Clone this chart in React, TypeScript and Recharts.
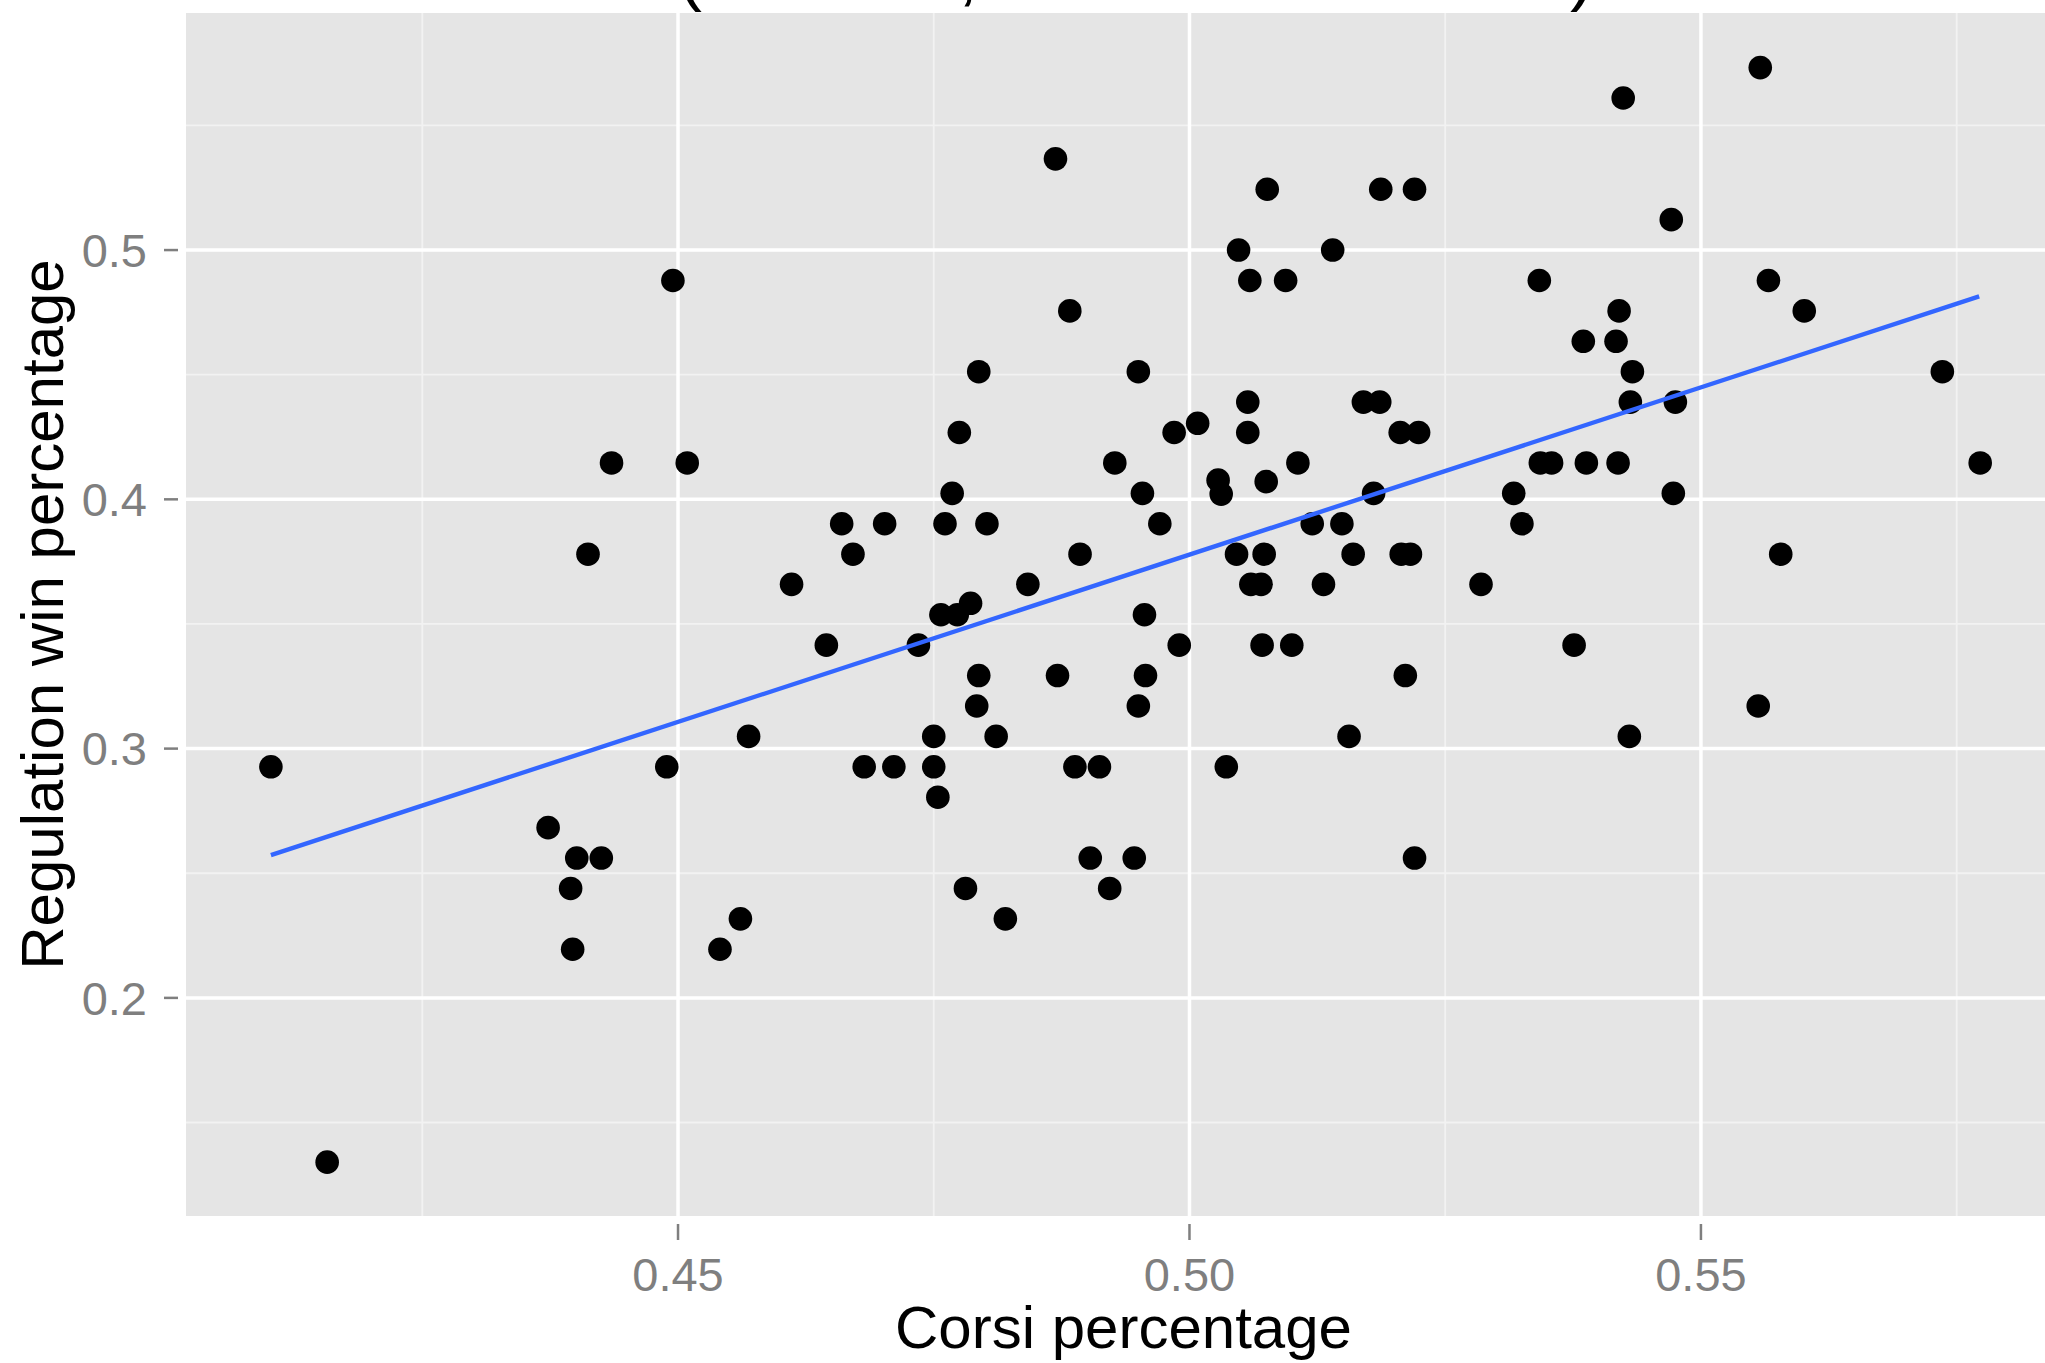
import React from 'react';
import { ScatterChart, Scatter, XAxis, YAxis, CartesianGrid, ReferenceLine } from 'recharts';

// ---- data ----
const corsiPct = [
  0.4495, 0.4869, 0.5076, 0.5187, 0.5220, 0.5048, 0.5140, 0.5059, 0.5094, 0.4883,
  0.4794, 0.4950, 0.5057, 0.5170, 0.5186,
  0.5558, 0.5424, 0.5471, 0.5342, 0.5566, 0.5420, 0.5601, 0.5385, 0.5417, 0.5433,
  0.5736, 0.5431, 0.5475,
  0.4435, 0.4509, 0.4412, 0.4611, 0.4102, 0.4489, 0.4569, 0.4373,
  0.4401, 0.4425, 0.4395, 0.4397, 0.4561, 0.4541, 0.4157,
  0.4775, 0.4985, 0.5008, 0.5057, 0.5206, 0.5224, 0.4927, 0.5028, 0.5031, 0.5075,
  0.5106, 0.4768, 0.4954, 0.5180, 0.4660, 0.4702, 0.4761, 0.4802, 0.4971, 0.5120,
  0.5149, 0.4671, 0.4893, 0.5046, 0.5073, 0.5160, 0.5207, 0.5216, 0.4842, 0.5060,
  0.5070, 0.5131, 0.4786, 0.4757, 0.4773, 0.4956, 0.4645, 0.4735, 0.4990, 0.5071,
  0.5100, 0.4794, 0.4871, 0.4957, 0.5211, 0.4792, 0.4950, 0.4750, 0.4811, 0.5156,
  0.4682, 0.4711, 0.4750, 0.4888, 0.4912, 0.5036, 0.4754,
  0.4903, 0.4946, 0.5220, 0.4781, 0.4922, 0.4820,
  0.5343, 0.5354, 0.5388, 0.5419, 0.5773, 0.5317, 0.5473, 0.5325, 0.5578, 0.5285,
  0.5376, 0.5556, 0.5430,
];

const regWinPct = [
  0.4878, 0.5366, 0.5244, 0.5244, 0.5244, 0.5000, 0.5000, 0.4878, 0.4878, 0.4756,
  0.4512, 0.4512, 0.4390, 0.4390, 0.4390,
  0.5732, 0.5610, 0.5122, 0.4878, 0.4878, 0.4756, 0.4756, 0.4634, 0.4634, 0.4512,
  0.4512, 0.4390, 0.4390,
  0.4146, 0.4146, 0.3780, 0.3659, 0.2927, 0.2927, 0.3049, 0.2683,
  0.2561, 0.2561, 0.2439, 0.2195, 0.2317, 0.2195, 0.1341,
  0.4268, 0.4268, 0.4305, 0.4268, 0.4268, 0.4268, 0.4146, 0.4077, 0.4021, 0.4071,
  0.4146, 0.4024, 0.4024, 0.4024, 0.3902, 0.3902, 0.3902, 0.3902, 0.3902, 0.3902,
  0.3902, 0.3780, 0.3780, 0.3780, 0.3780, 0.3780, 0.3780, 0.3780, 0.3659, 0.3659,
  0.3659, 0.3659, 0.3583, 0.3537, 0.3537, 0.3537, 0.3415, 0.3415, 0.3415, 0.3415,
  0.3415, 0.3293, 0.3293, 0.3293, 0.3293, 0.3171, 0.3171, 0.3049, 0.3049, 0.3049,
  0.2927, 0.2927, 0.2927, 0.2927, 0.2927, 0.2927, 0.2805,
  0.2561, 0.2561, 0.2561, 0.2439, 0.2439, 0.2317,
  0.4146, 0.4146, 0.4146, 0.4146, 0.4146, 0.4024, 0.4024, 0.3902, 0.3780, 0.3659,
  0.3415, 0.3171, 0.3049,
];

// fitted line end points (as drawn in the reference)
const trendCorsi = [0.4102, 0.5772];
const trendRegWin = [0.2573, 0.4814];

const xMajorTicks = [0.45, 0.5, 0.55];
const xMinorTicks = [0.425, 0.475, 0.525, 0.575];
const yMajorTicks = [0.2, 0.3, 0.4, 0.5];
const yMinorTicks = [0.15, 0.25, 0.35, 0.45, 0.55];

const xAxisTitle = 'Corsi percentage';
const yAxisTitle = 'Regulation win percentage';
const titleGlyphs = ['(', ',', ')'];

// ---- styling ----
const FONT = "'Liberation Sans', Arial, Helvetica, sans-serif";
const PANEL = '#E5E5E5';
const MINOR = '#F2F2F2';
const MAJOR = '#FFFFFF';
const AXIS_GREY = '#7F7F7F';
const X_DOMAIN: [number, number] = [0.4019, 0.5852];
const Y_DOMAIN: [number, number] = [0.1125, 0.5951];

const points = corsiPct.map((x, i) => ({ x, y: regWinPct[i] }));
const trend = trendCorsi.map((x, i) => ({ x, y: trendRegWin[i] }));

const XTick = (props: any) => {
  const { x, y, payload } = props;
  return (
    <g>
      <line x1={x} x2={x} y1={y + 8} y2={y + 24} stroke={AXIS_GREY} strokeWidth={2.5} />
      <text x={x} y={y + 75} textAnchor="middle" fontSize={47} fill={AXIS_GREY} fontFamily={FONT}>
        {Number(payload.value).toFixed(2)}
      </text>
    </g>
  );
};

const YTick = (props: any) => {
  const { x, y, payload } = props;
  return (
    <g>
      <line x1={x - 22} x2={x - 8} y1={y} y2={y} stroke={AXIS_GREY} strokeWidth={2.5} />
      <text x={x - 39} y={y + 16.8} textAnchor="end" fontSize={47} fill={AXIS_GREY} fontFamily={FONT}>
        {String(payload.value)}
      </text>
    </g>
  );
};

const Dot = (props: any) => {
  const { cx, cy } = props;
  if (cx == null || cy == null) return <g />;
  return <circle cx={cx} cy={cy} r={11.8} fill="#000000" />;
};

const NoDot = () => <g />;

const titleX = [690, 968, 1582];

export default function App() {
  return (
    <div
      style={{
        position: 'absolute',
        left: 0,
        top: 0,
        width: 2045,
        height: 1363,
        overflow: 'hidden',
        background: '#FFFFFF',
      }}
    >
      <ScatterChart width={2061} height={1363} margin={{ top: 13, right: 0, bottom: 0, left: 0 }}>
        <CartesianGrid fill={PANEL} stroke="none" horizontal={false} vertical={false} />
        {xMinorTicks.map((v) => (
          <ReferenceLine key={'xm' + v} x={v} stroke={MINOR} strokeWidth={1.8} />
        ))}
        {yMinorTicks.map((v) => (
          <ReferenceLine key={'ym' + v} y={v} stroke={MINOR} strokeWidth={1.8} />
        ))}
        {xMajorTicks.map((v) => (
          <ReferenceLine key={'xM' + v} x={v} stroke={MAJOR} strokeWidth={3.5} />
        ))}
        {yMajorTicks.map((v) => (
          <ReferenceLine key={'yM' + v} y={v} stroke={MAJOR} strokeWidth={3.5} />
        ))}
        <XAxis
          type="number"
          dataKey="x"
          domain={X_DOMAIN}
          allowDataOverflow
          ticks={xMajorTicks}
          interval={0}
          axisLine={false}
          tickLine={false}
          tickSize={0}
          tickMargin={0}
          height={147}
          tick={<XTick />}
          label={{
            content: (p: any) => {
              const vb = p.viewBox || { x: 186, y: 1216, width: 1875, height: 147 };
              return (
                <text
                  x={vb.x + vb.width / 2}
                  y={vb.y + 132}
                  textAnchor="middle"
                  fontSize={60}
                  fill="#000000"
                  fontFamily={FONT}
                >
                  {xAxisTitle}
                </text>
              );
            },
          }}
        />
        <YAxis
          type="number"
          dataKey="y"
          domain={Y_DOMAIN}
          allowDataOverflow
          ticks={yMajorTicks}
          interval={0}
          axisLine={false}
          tickLine={false}
          tickSize={0}
          tickMargin={0}
          width={186}
          tick={<YTick />}
          label={{
            content: (p: any) => {
              const vb = p.viewBox || { x: 0, y: 13, width: 186, height: 1203 };
              const cy = vb.y + vb.height / 2;
              return (
                <g>
                  <text
                    transform={`translate(63, ${cy}) rotate(-90)`}
                    textAnchor="middle"
                    fontSize={60}
                    fill="#000000"
                    fontFamily={FONT}
                  >
                    {yAxisTitle}
                  </text>
                  {titleGlyphs.map((g, i) => (
                    <text
                      key={'t' + i}
                      x={titleX[i]}
                      y={-3}
                      textAnchor="middle"
                      fontSize={72}
                      fill="#000000"
                      fontFamily={FONT}
                    >
                      {g}
                    </text>
                  ))}
                </g>
              );
            },
          }}
        />
        <Scatter data={points} shape={<Dot />} isAnimationActive={false} />
        <Scatter
          data={trend}
          shape={<NoDot />}
          line={{ stroke: '#3366FF', strokeWidth: 4.4 }}
          isAnimationActive={false}
        />
      </ScatterChart>
    </div>
  );
}
